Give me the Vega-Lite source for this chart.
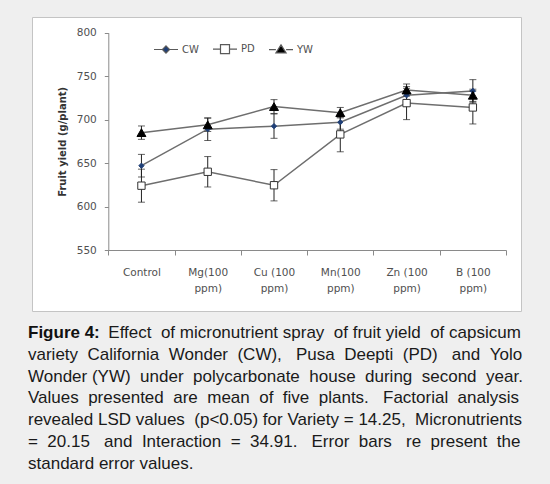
{
  "$schema": "https://vega.github.io/schema/vega-lite/v6.json",
  "width": 489,
  "height": 294,
  "autosize": {"type": "none"},
  "padding": {"left": 32, "top": 17, "right": 29, "bottom": 173},
  "background": "#efefef",
  "config": {
    "view": {"fill": "white", "stroke": "#c4c4c4", "strokeWidth": 1},
    "font": "DejaVu Sans"
  },
  "title": {
    "text": "Figure 4:",
    "orient": "bottom",
    "anchor": "start",
    "frame": "group",
    "dx": -4,
    "offset": 14,
    "font": "Liberation Sans",
    "fontSize": 17,
    "fontWeight": "bold",
    "color": "#111111",
    "lineHeight": 21.8,
    "subtitle": [
      "\u200b\u00a0\u00a0\u00a0\u00a0\u00a0\u00a0\u00a0\u00a0\u00a0\u00a0\u00a0\u00a0\u00a0\u00a0\u00a0\u00a0\u00a0Effect \u00a0of micronutrient spray \u00a0of fruit yield \u00a0of capsicum",
      "variety \u00a0California \u00a0Wonder \u00a0(CW), \u00a0\u00a0Pusa \u00a0Deepti \u00a0(PD) \u00a0\u00a0and \u00a0Yolo",
      "Wonder (YW) \u00a0under \u00a0polycarbonate \u00a0house \u00a0during \u00a0second \u00a0year.",
      "Values \u00a0presented \u00a0are \u00a0mean \u00a0of \u00a0five \u00a0plants. \u00a0\u00a0Factorial \u00a0analysis",
      "revealed LSD values \u00a0(p<0.05) for Variety = 14.25, \u00a0Micronutrients",
      "= \u00a020.15 \u00a0\u00a0and \u00a0Interaction \u00a0= \u00a034.91. \u00a0\u00a0Error \u00a0bars \u00a0\u00a0re \u00a0present \u00a0the",
      "standard error values."
    ],
    "subtitleFont": "Liberation Sans",
    "subtitleFontSize": 17,
    "subtitleColor": "#1a1a1a",
    "subtitleLineHeight": 21.8,
    "subtitlePadding": -17
  },
  "data": {
    "values": [
      {"variety": "CW", "treatment": "Control", "mean": 647, "lo": 634, "hi": 660},
      {"variety": "CW", "treatment": "Mg(100 ppm)", "mean": 689, "lo": 676, "hi": 702},
      {"variety": "CW", "treatment": "Cu (100 ppm)", "mean": 692.5, "lo": 678.5, "hi": 706.5},
      {"variety": "CW", "treatment": "Mn(100 ppm)", "mean": 697, "lo": 689, "hi": 705},
      {"variety": "CW", "treatment": "Zn (100 ppm)", "mean": 728, "lo": 720, "hi": 736},
      {"variety": "CW", "treatment": "B (100 ppm)", "mean": 733, "lo": 720, "hi": 746},
      {"variety": "PD", "treatment": "Control", "mean": 624, "lo": 605, "hi": 643},
      {"variety": "PD", "treatment": "Mg(100 ppm)", "mean": 640, "lo": 622.5, "hi": 657.5},
      {"variety": "PD", "treatment": "Cu (100 ppm)", "mean": 624.5, "lo": 606.5, "hi": 642.5},
      {"variety": "PD", "treatment": "Mn(100 ppm)", "mean": 683, "lo": 663, "hi": 703},
      {"variety": "PD", "treatment": "Zn (100 ppm)", "mean": 719, "lo": 700, "hi": 738},
      {"variety": "PD", "treatment": "B (100 ppm)", "mean": 714, "lo": 695, "hi": 733},
      {"variety": "YW", "treatment": "Control", "mean": 685, "lo": 677.3, "hi": 692.7},
      {"variety": "YW", "treatment": "Mg(100 ppm)", "mean": 694, "lo": 686.3, "hi": 701.7},
      {"variety": "YW", "treatment": "Cu (100 ppm)", "mean": 715, "lo": 707, "hi": 723},
      {"variety": "YW", "treatment": "Mn(100 ppm)", "mean": 708, "lo": 702, "hi": 714},
      {"variety": "YW", "treatment": "Zn (100 ppm)", "mean": 734, "lo": 727, "hi": 741},
      {"variety": "YW", "treatment": "B (100 ppm)", "mean": 728, "lo": 721, "hi": 735}
    ]
  },
  "encoding": {
    "x": {
      "field": "treatment",
      "type": "nominal",
      "sort": ["Control", "Mg(100 ppm)", "Cu (100 ppm)", "Mn(100 ppm)", "Zn (100 ppm)", "B (100 ppm)"],
      "scale": {
        "type": "band",
        "domain": ["Control", "Mg(100 ppm)", "Cu (100 ppm)", "Mn(100 ppm)", "Zn (100 ppm)", "B (100 ppm)"],
        "range": [76.3, 474],
        "paddingInner": 0,
        "paddingOuter": 0
      },
      "axis": {
        "title": null,
        "offset": -61,
        "domainColor": "#8a8a8a",
        "tickColor": "#8a8a8a",
        "tickBand": "extent",
        "tickSize": 5,
        "labelAngle": 0,
        "labelFont": "DejaVu Sans",
        "labelFontSize": 10.5,
        "labelColor": "#505050",
        "labelPadding": 12,
        "labelLineHeight": 16.7,
        "labelExpr": "indexof(datum.label, ' ppm)') > 0 ? [replace(datum.label, ' ppm)', ''), 'ppm)'] : datum.label"
      }
    }
  },
  "layer": [
    {
      "mark": {"type": "line", "color": "#6e6e6e", "strokeWidth": 1.5},
      "encoding": {
        "y": {
          "field": "mean",
          "type": "quantitative",
          "title": "Fruit yield  (g/plant)",
          "scale": {"domain": [550, 800], "range": [233, 15.7], "nice": false, "zero": false},
          "axis": {
            "offset": -76.3,
            "values": [550, 600, 650, 700, 750, 800],
            "grid": false,
            "domainColor": "#8a8a8a",
            "tickColor": "#8a8a8a",
            "tickSize": 4,
            "labelFont": "DejaVu Sans",
            "labelFontSize": 10.5,
            "labelColor": "#505050",
            "labelPadding": 8,
            "titleFont": "DejaVu Sans",
            "titleFontSize": 10,
            "titleFontWeight": "bold",
            "titleColor": "#333333",
            "titlePadding": 9
          }
        },
        "detail": {"field": "variety"}
      }
    },
    {
      "mark": {
        "type": "errorbar",
        "color": "#222222",
        "ticks": {"size": 7},
        "thickness": 1
      },
      "encoding": {
        "y": {"field": "lo", "type": "quantitative", "title": "Fruit yield  (g/plant)"},
        "y2": {"field": "hi"},
        "detail": {"field": "variety"}
      }
    },
    {
      "mark": {"type": "point", "filled": true, "strokeWidth": 1, "opacity": 1},
      "encoding": {
        "y": {"field": "mean", "type": "quantitative", "title": "Fruit yield  (g/plant)"},
        "shape": {
          "field": "variety",
          "type": "nominal",
          "scale": {"domain": ["CW", "PD", "YW"], "range": ["diamond", "square", "triangle-up"]},
          "legend": null
        },
        "fill": {
          "field": "variety",
          "type": "nominal",
          "scale": {"domain": ["CW", "PD", "YW"], "range": ["#1f3f77", "#ffffff", "#000000"]},
          "legend": null
        },
        "stroke": {
          "field": "variety",
          "type": "nominal",
          "scale": {"domain": ["CW", "PD", "YW"], "range": ["#1f3f77", "#333333", "#000000"]},
          "legend": null
        },
        "size": {
          "field": "variety",
          "type": "nominal",
          "scale": {"domain": ["CW", "PD", "YW"], "range": [28, 80, 64]},
          "legend": null
        }
      }
    },
    {
      "transform": [{"filter": "datum.mean < 0"}],
      "mark": {"type": "point", "filled": true, "stroke": "#5a5a5a", "strokeWidth": 1.2, "opacity": 1},
      "encoding": {
        "y": {"field": "mean", "type": "quantitative", "title": "Fruit yield  (g/plant)"},
        "shape": {
          "field": "variety",
          "type": "nominal",
          "scale": {
            "domain": ["CW", "PD", "YW"],
            "range": [
              "M-4,0H-1.2M1.2,0H4M0,-1.2L1.2,0L0,1.2L-1.2,0Z",
              "M-4,0H-1.5M1.5,0H4M-1.5,-1.5H1.5V1.5H-1.5Z",
              "M-4,0H-1.7M1.7,0H4M0,-1.6L1.7,1.1H-1.7Z"
            ]
          },
          "legend": {
            "title": null,
            "orient": "none",
            "legendX": 129,
            "legendY": 27,
            "direction": "horizontal",
            "padding": 0,
            "symbolSize": 36,
            "symbolStrokeWidth": 1.2,
            "labelOffset": 11,
            "columnPadding": 11,
            "labelFont": "DejaVu Sans",
            "labelFontSize": 10,
            "labelColor": "#505050"
          }
        },
        "fill": {
          "field": "variety",
          "type": "nominal",
          "scale": {"domain": ["CW", "PD", "YW"], "range": ["#1f3f77", "#ffffff", "#000000"]}
        }
      }
    }
  ],
  "resolve": {"scale": {"shape": "independent", "fill": "independent"}}
}
